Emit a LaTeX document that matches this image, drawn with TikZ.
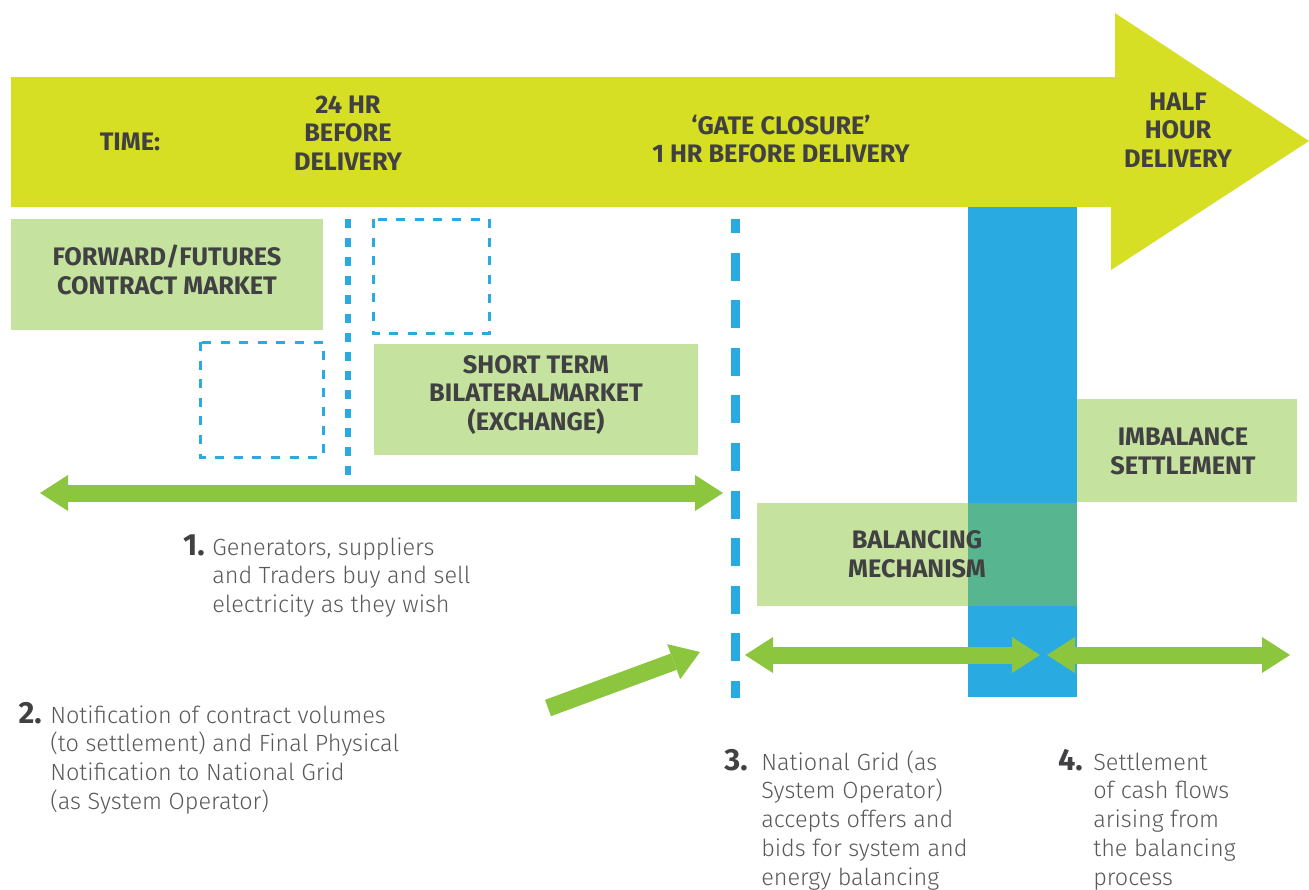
\documentclass[tikz,border=0pt]{standalone}
\usepackage{fontspec}
\setmainfont{Fira Sans}
\newfontfamily\lightfont{Fira Sans Light}
\usepackage{tikz}
\usetikzlibrary{arrows.meta}

\definecolor{limegreen}{HTML}{D6DF23}
\definecolor{boxgreen}{HTML}{C5E29E}
\definecolor{arrowgreen}{HTML}{8CC63F}
\definecolor{gridblue}{HTML}{29AAE1}
\definecolor{overlapgreen}{HTML}{57B68F}
\definecolor{headgray}{HTML}{414042}
\definecolor{textgray}{HTML}{58595B}

\begin{document}
\begin{tikzpicture}[x=0.75pt,y=0.75pt,yscale=-1,xscale=1,
  heading/.style={text=headgray,font=\bfseries\fontsize{19}{21.5}\selectfont,align=center,inner sep=0pt},
  note/.style={text=textgray,font=\lightfont\fontsize{17.6}{21.6}\selectfont,align=left,inner sep=0pt,anchor=base west},
  notenum/.style={text=headgray,font=\bfseries\fontsize{23}{26}\selectfont,inner sep=0pt,anchor=base east},
  timeline/.style={draw=arrowgreen,line width=12.75pt,
    {Triangle[length=21pt,width=27pt,line width=0pt]}-{Triangle[length=21pt,width=27pt,line width=0pt]}},
  pointer/.style={draw=arrowgreen,line width=13pt,-{Triangle[length=21pt,width=28pt,line width=0pt]}},
  dashbox/.style={draw=gridblue,line width=2.25pt,dash pattern={on 6.75pt off 7.2pt}}]
\useasboundingbox (0,0) rectangle (1309,889);

%Shape: Arrow [time line]
\fill [limegreen] (11,77) -- (1115,77) -- (1115,13) -- (1309,141) -- (1111,270) -- (1111,207) -- (11,207) -- cycle ;

%Shape: Rectangle [forward market]
\fill [boxgreen] (11,219) rectangle (323,330) ;
%Shape: Rectangle [short term market]
\fill [boxgreen] (374,344) rectangle (698,455) ;
%Shape: Dashed Square
\draw [dashbox] (373,219) rectangle (489,333) ;
%Shape: Dashed Square
\draw [dashbox] (200,342) rectangle (323,457) ;
%Straight Lines [24 hr line]
\draw [draw=gridblue,line width=4.5pt,dash pattern={on 6.75pt off 7.5pt}] (348,219) -- (348,475) ;
%Straight Lines [gate closure line]
\draw [draw=gridblue,line width=6.75pt,dash pattern={on 21pt off 14.7pt},dash phase=10.5pt] (735,219) -- (735,698) ;

%Shape: Rectangle [delivery column]
\fill [gridblue] (968,207) rectangle (1077,697) ;
%Shape: Rectangle [balancing]
\fill [boxgreen] (757,503) rectangle (968,606) ;
\fill [overlapgreen] (968,503) rectangle (1077,606) ;
%Shape: Rectangle [imbalance]
\fill [boxgreen] (1077,399) rectangle (1297,502) ;

%Straight Lines [arrows]
\coordinate (trade-l) at (40,493) ;
\coordinate (trade-r) at (723,493) ;
\coordinate (bal-l) at (745,655) ;
\coordinate (bal-r) at (1040,655) ;
\coordinate (set-l) at (1047,655) ;
\coordinate (set-r) at (1290,655) ;
\coordinate (notif-s) at (548,708) ;
\coordinate (notif-e) at (700,652) ;
\draw [timeline] (trade-l) -- (trade-r) ;
\draw [timeline] (bal-l) -- (bal-r) ;
\draw [timeline] (set-l) -- (set-r) ;
\draw [pointer] (notif-s) -- (notif-e) ;

% Text Node
\draw (130,142) node (time) [heading] {TIME:};
% Text Node
\draw (348,133) node (dayahead) [heading] {24 HR\\BEFORE\\DELIVERY};
% Text Node
\draw (781,139) node (gate) [heading] {‘GATE CLOSURE’\\1 HR BEFORE DELIVERY};
% Text Node
\draw (1178,130) node (halfhour) [heading] {HALF\\HOUR\\DELIVERY};
% Text Node
\draw (167,270) node (forward) [heading] {FORWARD/FUTURES\\CONTRACT MARKET};
% Text Node
\draw (536,395) node (shortterm) [heading] {SHORT TERM\\BILATERALMARKET\\(EXCHANGE)};
% Text Node
\draw (1183,451) node (imbalance) [heading] {IMBALANCE\\SETTLEMENT};
% Text Node
\draw (917,554) node (balancing) [heading] {BALANCING\\MECHANISM};

% Text Node (base of the last line)
\draw (205,555) node (num1) [notenum] {1.};
\draw (212,612.6) node (note1) [note] {Generators, suppliers\\and Traders buy and sell\\electricity as they wish};
% Text Node
\draw (42,723) node (num2) [notenum] {2.};
\draw (50,809.4) node (note2) [note] {Notification of contract volumes\\(to settlement) and Final Physical\\Notification to National Grid\\(as System Operator)};
% Text Node
\draw (748,770) node (num3) [notenum] {3.};
\draw (761,885.2) node (note3) [note] {National Grid (as\\System Operator)\\accepts offers and\\bids for system and\\energy balancing};
% Text Node
\draw (1083,770) node (num4) [notenum] {4.};
\draw (1093,885.2) node (note4) [note] {Settlement\\of cash flows\\arising from\\the balancing\\process};

\end{tikzpicture}
\end{document}
